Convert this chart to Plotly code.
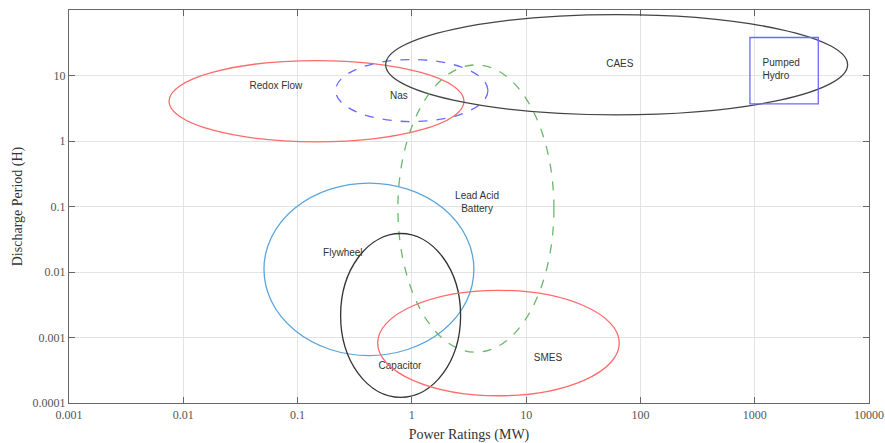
import plotly.graph_objects as go

# Technology regions (bounds in MW and hours)
technologies = ["Redox Flow", "Nas", "CAES", "Lead Acid Battery", "Flywheel", "Capacitor", "SMES"]
power_min = [0.0075, 0.215, 0.59, 0.755, 0.0508, 0.238, 0.502]
power_max = [2.86, 4.63, 6500, 17.5, 3.49, 2.67, 65.3]
period_min = [0.97, 1.98, 2.51, 0.000596, 0.00053, 0.000122, 0.000129]
period_max = [16.9, 17.5, 85, 14.5, 0.228, 0.0387, 0.00525]

# Pumped hydro rectangle
ph_power = [908, 3600]
ph_period = [3.7, 38]

# Labels
label_text = ["Redox Flow", "Nas", "CAES", "Lead Acid<br>Battery", "Flywheel", "Capacitor", "SMES"]
label_x = [0.0647, 0.77, 66, 3.72, 0.249, 0.787, 15.5]
label_y = [6.7, 4.73, 14.6, 0.113, 0.0193, 0.00036, 0.000476]
ph_label_x = [1172]
ph_label_y = [12.3]

x_tickvals = [0.001, 0.01, 0.1, 1, 10, 100, 1000, 10000]
x_ticktext = ["0.001", "0.01", "0.1", "1", "10", "100", "1000", "10000"]
y_tickvals = [0.0001, 0.001, 0.01, 0.1, 1, 10]
y_ticktext = ["0.0001", "0.001", "0.01", "0.1", "1", "10"]

styles = {
    "Redox Flow": dict(color="#ff6a6a", dash="solid"),
    "Nas": dict(color="#6a6aff", dash="dash"),
    "CAES": dict(color="#444444", dash="solid"),
    "Lead Acid Battery": dict(color="#6ab86a", dash="dash"),
    "Flywheel": dict(color="#5aa6dc", dash="solid"),
    "Capacitor": dict(color="#333333", dash="solid"),
    "SMES": dict(color="#ff6a6a", dash="solid"),
}

fig = go.Figure()

shapes = []
for name, x0, x1, y0, y1 in zip(technologies, power_min, power_max, period_min, period_max):
    st = styles[name]
    shapes.append(dict(type="circle", xref="x", yref="y", x0=x0, x1=x1, y0=y0, y1=y1,
                       line=dict(color=st["color"], width=1.3, dash=st["dash"]),
                       fillcolor="rgba(0,0,0,0)", layer="above"))
shapes.append(dict(type="rect", xref="x", yref="y", x0=ph_power[0], x1=ph_power[1],
                   y0=ph_period[0], y1=ph_period[1],
                   line=dict(color="#6a6aff", width=1.3), fillcolor="rgba(0,0,0,0)"))

fig.add_trace(go.Scatter(x=label_x, y=label_y, text=label_text, mode="text",
                         textposition="middle center",
                         textfont=dict(family="Liberation Sans", size=10, color="#333333"),
                         hoverinfo="skip", showlegend=False))
fig.add_trace(go.Scatter(x=ph_label_x, y=ph_label_y, text=["Pumped<br>Hydro"], mode="text",
                         textposition="middle right",
                         textfont=dict(family="Liberation Sans", size=10, color="#333333"),
                         hoverinfo="skip", showlegend=False))

axis_common = dict(type="log", showgrid=True, gridcolor="#e3e3e3", gridwidth=1,
                   showline=True, linecolor="#666666", linewidth=1.3, mirror="ticks",
                   ticks="inside", ticklen=6, tickcolor="#666666", zeroline=False,
                   automargin=False,
                   tickfont=dict(family="Liberation Serif", size=12, color="#555555"))

fig.update_layout(
    width=885, height=443,
    margin=dict(l=69, r=16, t=10, b=40),
    plot_bgcolor="white", paper_bgcolor="white",
    shapes=shapes,
    showlegend=False,
    xaxis=dict(**axis_common, range=[-3, 4], tickvals=x_tickvals, ticktext=x_ticktext,
               title=dict(text="Power Ratings (MW)", standoff=8,
                          font=dict(family="Liberation Serif", size=14, color="#333333"))),
    yaxis=dict(**axis_common, range=[-4, 2], tickvals=y_tickvals, ticktext=y_ticktext,
               title=dict(text="Discharge Period (H)", standoff=6,
                          font=dict(family="Liberation Serif", size=14, color="#333333"))),
)

fig.write_html("out.html")
